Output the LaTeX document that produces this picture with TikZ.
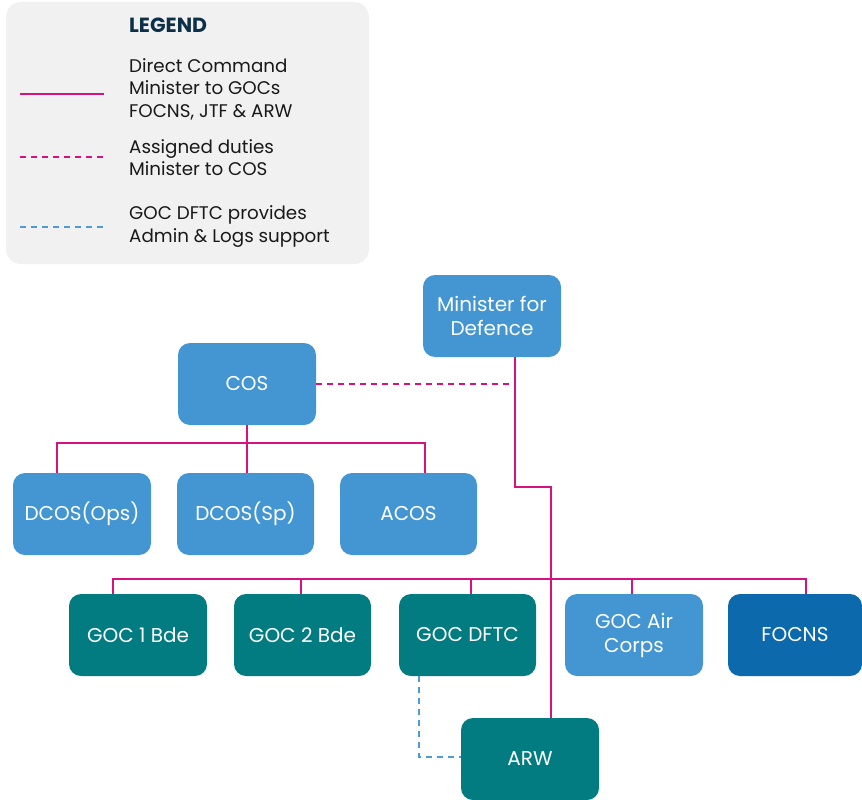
\documentclass[tikz,border=0pt]{standalone}
\usepackage{fontspec}
\setmainfont{Poppins}
\usetikzlibrary{calc}
\definecolor{mag}{RGB}{214,18,128}
\definecolor{dblue}{RGB}{74,155,214}
\definecolor{nblue}{RGB}{67,150,210}
\definecolor{teal}{RGB}{2,124,128}
\definecolor{navy}{RGB}{11,105,172}
\definecolor{legbg}{RGB}{241,241,241}
\definecolor{ttl}{RGB}{13,48,73}
\tikzset{
  box/.style={rectangle, rounded corners=12pt, minimum width=138pt, minimum height=82pt,
    inner sep=0pt, text=white, align=center, font=\fontsize{20}{24}\selectfont},
  bluebox/.style={box, fill=nblue},
  tealbox/.style={box, fill=teal},
  navybox/.style={box, fill=navy},
  cmd/.style={draw=mag, line width=1.5pt},
  duty/.style={draw=mag, line width=1.5pt, dash pattern=on 6pt off 5pt},
  support/.style={draw=dblue, line width=1.5pt, dash pattern=on 6pt off 5pt},
  legtext/.style={anchor=west, align=left, inner sep=0pt, text=black!90, font=\fontsize{18.3}{22.5}\selectfont}
}
\begin{document}
\begin{tikzpicture}[x=1pt,y=-1pt]
\useasboundingbox (0,0) rectangle (862,800);
% legend
\fill[legbg, rounded corners=15pt] (6,2) rectangle (369,264);
\node[anchor=west, inner sep=0pt, text=ttl, font=\fontsize{20.5}{22}\selectfont\bfseries] (legt) at (129,25) {LEGEND};
\coordinate (l1a) at (20,94); \coordinate (l1b) at (104,94);
\coordinate (l2a) at (20,157); \coordinate (l2b) at (106,157);
\coordinate (l3a) at (20,227); \coordinate (l3b) at (106,227);
\draw[cmd] (l1a) -- (l1b);
\draw[duty] (l2a) -- (l2b);
\draw[support] (l3a) -- (l3b);
\node[legtext] (lt1) at (129,89) {Direct Command\\Minister to GOCs\\FOCNS, JTF \& ARW};
\node[legtext] (lt2) at (129,157.5) {Assigned duties\\Minister to COS};
\node[legtext] (lt3) at (129,226.5) {GOC DFTC provides\\Admin \& Logs support};
% nodes
\node[bluebox] (min) at (492,316) {Minister for\\Defence};
\node[bluebox] (cos) at (247,384) {COS};
\node[bluebox] (dops) at (82,514) {DCOS(Ops)};
\node[bluebox, minimum width=137pt] (dsp) at (245.5,514) {DCOS(Sp)};
\node[bluebox, minimum width=137pt] (acos) at (408.5,514) {ACOS};
\node[tealbox] (g1) at (138,635) {GOC 1 Bde};
\node[tealbox, minimum width=137pt] (g2) at (302.5,635) {GOC 2 Bde};
\node[tealbox, minimum width=137pt] (dftc) at (467.5,635) {GOC DFTC};
\node[bluebox] (air) at (634,635) {GOC Air\\Corps};
\node[navybox, minimum width=134pt] (focns) at (795,635) {FOCNS};
\node[tealbox] (arw) at (530,759) {ARW};
% COS tree
\coordinate (cbus) at ($(cos.south)+(0,18)$);
\draw[cmd] (cos.south) -- (cbus);
\draw[cmd] ($(dops.north)+(-25,0)$) |- (cbus) -| ($(acos.north)+(16.5,0)$);
\draw[cmd] (cbus) -- ($(dsp.north)+(1.5,0)$);
% minister line
\coordinate (mtop) at ($(min.south)+(23,0)$);
\coordinate (mbend) at ($(min.south)+(23,130)$);
\coordinate (adrop) at ($(arw.north)+(21,0)$);
\draw[cmd] (mtop) -- (mbend) -| (adrop);
\draw[duty] (cos.east) -- (cos.east -| mtop);
% GOC bus
\coordinate (gbus) at (550,579);
\draw[cmd] ($(g1.north)+(-25,0)$) |- (gbus) -| ($(focns.north)+(11,0)$);
\draw[cmd] ($(g2.north)+(-1.5,0)$) -- ++(0,-15);
\draw[cmd] ($(dftc.north)+(3.5,0)$) -- ++(0,-15);
\draw[cmd] ($(air.north)+(-2,0)$) -- ++(0,-15);
% support line
\draw[support] ($(dftc.south)+(-48.5,0)$) |- ($(arw.west)+(0,-2)$);
\end{tikzpicture}
\end{document}
